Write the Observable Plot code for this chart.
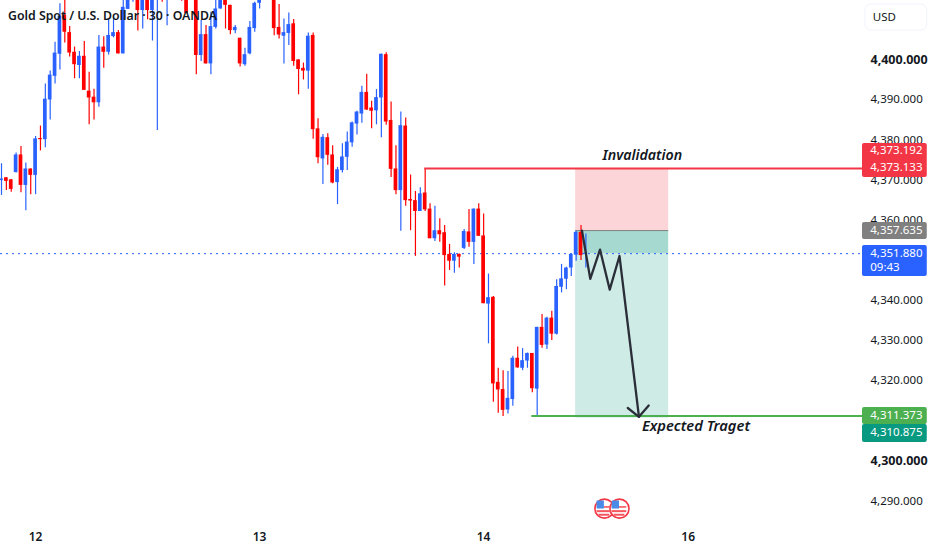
<!DOCTYPE html>
<html><head><meta charset="utf-8">
<script src="https://cdn.jsdelivr.net/npm/d3@7"></script>
<script src="https://cdn.jsdelivr.net/npm/@observablehq/plot@0.6"></script>
<style>
html,body{margin:0;padding:0;background:#fff;overflow:hidden}
#c{position:relative;width:932px;height:550px}
#t{position:absolute;left:8px;top:7px;font:600 12.3px "Noto Sans",sans-serif;color:#131722;z-index:2;white-space:nowrap}
svg{display:block}
</style></head><body><div id="c"><div id="t">Gold Spot / U.S. Dollar · 30 · OANDA</div></div>
<script>
const opens=[4370.1,4370.8,4370.3,4372.1,4376.5,4368.9,4373.0,4371.4,4380.6,4380.3,
4390.2,4396.1,4401.6,4411.3,4407.0,4402.1,4398.8,4401.1,4392.4,4390.9,
4389.5,4403.4,4402.1,4406.0,4407.0,4401.7,4412.8,4415.5,4417,4412.5,
4417,4412.5,4416,4419,4416,4418,4419,4418,4419,4417,
4418,4401.3,4406.5,4399.2,4408.3,4412.9,4417,4413.8,4407.5,4405.6,
4399.0,4401.7,4408.0,4414.3,4416,4417,4417,4408.3,4406.1,4406.8,
4409.2,4400.2,4398.1,4397.4,4406.3,4383.0,4375.5,4380.8,4376.5,4369.6,
4372.6,4375.9,4379.5,4384.2,4386.7,4392.1,4388.2,4387.5,4390.7,4401.5,
4385.1,4373.0,4367.6,4383.7,4365.4,4365.1,4362.4,4367.0,4363.0,4355.6,
4357.6,4357.1,4351.7,4350.0,4351.7,4353.2,4357.3,4354.7,4363.0,4356.3,
4339.3,4341.0,4319.8,4318.0,4312.9,4315.5,4325.8,4323.3,4325.1,4327.0,
4318.1,4333.5,4329.1,4335.8,4331.8,4343.5,4345.5,4348.3,4351.5,4357.2,4351.7];
const closes=[4370.5,4369.9,4367.9,4376.5,4368.9,4373.0,4371.4,4380.5,4380.3,4390.4,
4396.4,4401.9,4411.1,4407.1,4401.9,4399.0,4401.1,4392.6,4390.7,4389.5,
4403.4,4402.1,4406.3,4407.0,4401.7,4413.3,4416,4416,4412.5,4417,
4412.5,4417,4420,4416,4419,4420,4421,4416,4411.8,4420,
4401.3,4406.5,4399.2,4408.5,4412.9,4416,4413.8,4407.5,4408.3,4399.2,
4401.5,4408.3,4414.3,4416,4418,4418,4408.0,4406.4,4407.0,4409.0,
4399.8,4397.8,4397.4,4406.1,4382.8,4375.8,4380.9,4376.4,4369.5,4372.8,
4376.0,4379.7,4384.5,4387.2,4392.1,4387.7,4387.4,4390.8,4401.6,4384.7,
4372.9,4367.6,4383.8,4365.1,4365.0,4362.4,4366.8,4362.8,4355.6,4357.6,
4356.6,4351.4,4350.0,4351.7,4351.0,4357.4,4354.7,4363.0,4356.2,4339.4,
4340.9,4319.4,4317.9,4312.8,4315.8,4325.8,4323.4,4325.2,4327.0,4318.2,
4333.5,4329.0,4335.8,4331.8,4343.7,4345.6,4348.3,4351.7,4357.2,4351.4,4352.0];
const highs=[4374.3,4370.9,4370.4,4377.0,4378.6,4374.5,4373.0,4381.1,4383.7,4394.2,
4397.4,4404.6,4414.2,4416.5,4408.5,4403.4,4402.3,4404.8,4397.1,4392.9,
4406.3,4406.0,4410.0,4410.8,4407.5,4418,4417,4417,4419,4419,
4419,4418,4421,4420,4420,4421,4422,4420,4421,4421,
4421,4410.0,4408.8,4412.1,4416,4417,4418,4413.8,4408.8,4405.6,
4403.1,4409.8,4414.6,4417,4419,4419,4418,4414.0,4410.4,4411.9,
4410.3,4400.2,4399.4,4406.9,4406.9,4385.5,4381.6,4381.8,4378.8,4373.4,
4379.3,4382.2,4384.7,4387.4,4393.6,4396.6,4389.9,4392.8,4401.7,4402.0,
4389.7,4378.8,4387.2,4385.7,4371.5,4367.4,4368.3,4373.0,4364.3,4363.7,
4360.6,4358.9,4354.2,4352.1,4351.8,4357.9,4362.9,4363.0,4364.3,4361.8,
4346.8,4341.2,4323.3,4322.7,4322.5,4326.3,4328.6,4328.2,4327.1,4327.0,
4333.5,4336.7,4336.0,4337.5,4345.4,4349.2,4348.5,4351.8,4357.5,4358.9,4356.8];
const lows=[4366.4,4367.6,4367.2,4372.0,4367.1,4362.6,4366.6,4366.6,4377.5,4378.3,
4385.2,4394.2,4397.7,4404.4,4400.9,4395.5,4395.5,4392.6,4384.0,4385.2,
4388.4,4398.1,4401.4,4405.7,4401.7,4401.7,4412.8,4414.6,4407.4,4407.9,
4410.2,4404.9,4382.6,4414.6,4408.7,4416,4417,4414.8,4411.7,4416,
4396.5,4399.8,4399.2,4396.5,4407.9,4412.8,4407.9,4406.5,4406.7,4398.4,
4398.6,4401.5,4407.1,4412.9,4416,4416,4406.2,4405.4,4399.2,4403.8,
4398.6,4391.5,4395.2,4392.9,4380.4,4374.3,4369.1,4373.9,4369.3,4364.1,
4372.0,4372.6,4378.4,4381.5,4384.4,4387.6,4383.0,4384.0,4380.8,4383.9,
4370.9,4366.6,4357.5,4363.7,4357.6,4351.2,4362.4,4362.4,4355.6,4354.9,
4354.7,4343.8,4347.7,4347.0,4348.3,4352.9,4353.5,4349.2,4356.2,4339.4,
4329.4,4314.8,4312.1,4311.3,4311.9,4313.8,4323.3,4322.7,4323.3,4317.2,
4311.1,4328.3,4328.0,4330.2,4331.6,4342.1,4342.9,4346.2,4350.0,4350.2,4348.3];

const majorTicks=[4400,4300];
const minorTicks=[4390,4380,4370,4360,4340,4330,4320,4290];
const dayIdx=[7,53,99,141];
const dayLabels=["12","13","14","16"];

const invalidation=4373.133, target=4311.373, entry=4357.635, targetBox=4310.875, lastPrice=4351.88;
const boxStart=117.9, boxEnd=137.0;
const arrowX=[119.2,120.9,122.9,124.9,126.9,130.9];
const arrowY=[4357.6,4345.6,4352.9,4342.9,4351.3,4311.2];
const headX=[128.6,130.9,132.9];
const headY=[4313.4,4311.2,4314.0];

const tags=[
 {x1:176.8,x2:190.1,y1:4379.35,y2:4370.87,fill:"#f23645"},
 {x1:176.8,x2:190.1,y1:4359.65,y2:4355.41,fill:"#808080"},
 {x1:176.8,x2:190.1,y1:4353.9,y2:4346.2,fill:"#2962ff"},
 {x1:176.8,x2:190.1,y1:4313.5,y2:4309.3,fill:"#4caf50"},
 {x1:176.8,x2:190.1,y1:4309.3,y2:4304.8,fill:"#089981"}
];
const tagTexts=[
 {y:4377.6,t:"4,373.192"},{y:4373.3,t:"4,373.133"},{y:4357.7,t:"4,357.635"},
 {y:4352.0,t:"4,351.880"},{y:4348.5,t:"09:43"},{y:4311.6,t:"4,311.373"},{y:4307.4,t:"4,310.875"}
];

const candles=opens.map((o,i)=>({i,o,c:closes[i],h:highs[i],l:lows[i],col:closes[i]>=o?"#2962ff":"#ff0000"}));
const flagY=4288.3, flagXs=[123.8,126.9];

const font='"Noto Sans",sans-serif';
const plot=Plot.plot({
 width:932,height:550,marginTop:0,marginLeft:0,marginRight:70,marginBottom:30,
 style:{fontFamily:font,background:"#fff",overflow:"visible"},
 x:{domain:[-0.205,176.8],axis:null},
 y:{domain:[4285.34,4415.01],axis:null},
 marks:[
  Plot.rect([0],{x1:boxStart,x2:boxEnd,y1:entry,y2:invalidation,fill:"#fbd5d8"}),
  Plot.rect([0],{x1:boxStart,x2:boxEnd,y1:targetBox,y2:lastPrice,fill:"#cfebe5"}),
  Plot.rect([0],{x1:boxStart,x2:boxEnd,y1:lastPrice,y2:entry,fill:"#a6d9d0"}),
  Plot.ruleY([entry],{x1:boxStart,x2:boxEnd,stroke:"#808080",strokeWidth:1}),
  Plot.ruleY([lastPrice],{stroke:"#2962ff",strokeWidth:1,strokeDasharray:"2 4"}),
  Plot.ruleX(candles,{x:"i",y1:"l",y2:"h",stroke:"col",strokeWidth:1.2,clip:true}),
  Plot.rect(candles,{x1:d=>d.i-0.38,x2:d=>d.i+0.38,y1:"o",y2:"c",fill:"col",clip:true}),
  Plot.ruleY([invalidation],{x1:86.9,x2:176.8,stroke:"#f23645",strokeWidth:2}),
  Plot.ruleY([target],{x1:108.9,x2:176.8,stroke:"#4caf50",strokeWidth:2}),
  Plot.line(arrowX.map((x,i)=>[x,arrowY[i]]),{stroke:"#2a2e39",strokeWidth:2.3,curve:"linear"}),
  Plot.line(headX.map((x,i)=>[x,headY[i]]),{stroke:"#2a2e39",strokeWidth:2.3,curve:"linear"}),
  Plot.text(["Invalidation"],{x:131.6,y:4376.4,text:d=>d,fontSize:14.2,fontStyle:"italic",fontWeight:600,fill:"#131722"}),
  Plot.text(["Expected Traget"],{x:142.6,y:4308.8,text:d=>d,fontSize:14.7,fontStyle:"italic",fontWeight:600,fill:"#131722"}),
  Plot.axisY({anchor:"right",ticks:minorTicks,tickSize:0,tickPadding:8,dy:-1,label:null,textAnchor:"start",fontSize:11.5,fill:"#131722",tickFormat:d3.format(",.3f")}),
  Plot.axisY({anchor:"right",ticks:majorTicks,tickSize:0,tickPadding:8,dy:-1,label:null,textAnchor:"start",fontSize:12.5,fontWeight:700,fill:"#131722",tickFormat:d3.format(",.3f")}),
  Plot.axisX({anchor:"bottom",ticks:dayIdx,tickSize:0,tickPadding:12,label:null,fontSize:12,fontWeight:600,fill:"#131722",tickFormat:(d,i)=>dayLabels[i]}),
  Plot.rect(tags,{x1:"x1",x2:"x2",y1:"y1",y2:"y2",fill:"fill",rx:2}),
  Plot.text(tagTexts,{x:178.4,y:"y",text:"t",fill:"#fff",fontSize:11.5,textAnchor:"start"}),
  Plot.rect([0],{x1:177.4,x2:190.1,y1:4407.5,y2:4414,fill:"#fff",stroke:"#f0f3fa",rx:6}),
  Plot.text(["USD"],{x:178.9,y:4410.8,text:d=>d,fontSize:11.5,fill:"#131722",textAnchor:"start"}),
  Plot.dot(flagXs,{x:d=>d,y:flagY,r:9.5,fill:"#fff",stroke:"#f23645",strokeWidth:1.6}),
  Plot.rect(flagXs,{x1:d=>d-1.5,x2:d=>d+1.5,y1:flagY-0.5,y2:flagY-1.0,fill:"#f6575f"}),
  Plot.rect(flagXs,{x1:d=>d-1.1,x2:d=>d+1.1,y1:flagY-1.4,y2:flagY-1.9,fill:"#f6575f"}),
  Plot.rect(flagXs,{x1:d=>d,x2:d=>d+1.5,y1:flagY+0.1,y2:flagY+0.5,fill:"#f6575f"}),
  Plot.rect(flagXs,{x1:d=>d-1.5,x2:d=>d,y1:flagY-0.1,y2:flagY+1.9,fill:"#4a8be8"})
 ]
});
document.getElementById("c").appendChild(plot);
</script></body></html>
